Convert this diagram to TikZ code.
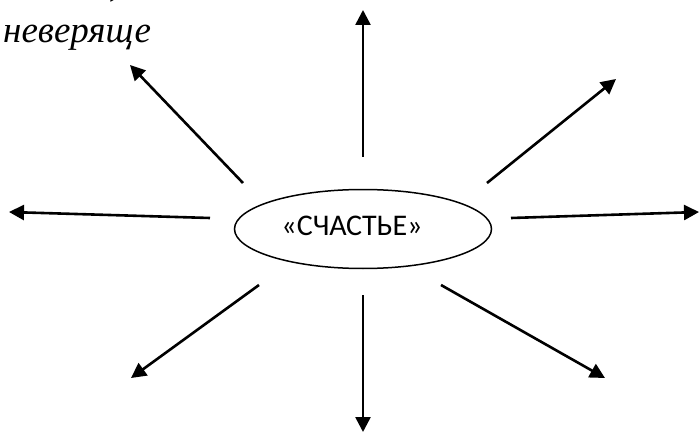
\documentclass[tikz,border=0pt]{standalone}
\usepackage{fontspec}
\setmainfont{Liberation Serif}
\newfontfamily\lblfont{Carlito}
\usetikzlibrary{arrows.meta,shapes.geometric}
\begin{document}
\begin{tikzpicture}[x=1pt,y=-1pt,
  arr/.style={line width=2.6pt,-{Triangle[length=15pt,width=15pt]}},
  lbl/.style={font=\lblfont\fontsize{30}{34}\selectfont},
  itx/.style={font=\itshape\fontsize{37}{41}\selectfont, inner sep=0pt, anchor=base west}]
\useasboundingbox (0,0) rectangle (699,433);
\node[draw, ellipse, line width=1.5pt, minimum width=257pt, minimum height=79pt, inner sep=0pt] (c) at (363,229) {};
\node[lbl] (t) at (352,226) {«СЧАСТЬЕ»};
\node[itx] (w) at (3,43) {неверяще};
\node[itx] (cm) at (109,-3.5) {,};
% start and end points of the arrows
\coordinate (su) at (363,157);
\coordinate (eu) at (363,10);
\coordinate (sd) at (363,295);
\coordinate (ed) at (363,432);
\coordinate (sl) at (210,218);
\coordinate (el) at (9,212);
\coordinate (sr) at (511,218);
\coordinate (er) at (699,212);
\coordinate (sul) at (243,183);
\coordinate (eul) at (130,65);
\coordinate (sur) at (487,183);
\coordinate (eur) at (616,79);
\coordinate (sdl) at (259,285);
\coordinate (edl) at (131,378);
\coordinate (sdr) at (441,285);
\coordinate (edr) at (605,378);
\draw[arr] (su) -- (eu);
\draw[arr] (sd) -- (ed);
\draw[arr] (sl) -- (el);
\draw[arr] (sr) -- (er);
\draw[arr] (sul) -- (eul);
\draw[arr] (sur) -- (eur);
\draw[arr] (sdl) -- (edl);
\draw[arr] (sdr) -- (edr);
\end{tikzpicture}
\end{document}
